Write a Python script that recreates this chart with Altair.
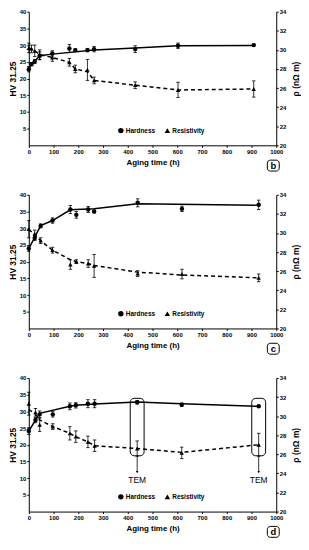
import altair as alt
import pandas as pd

# ---------------- data ----------------
# panel b
b_t = [0, 11, 24, 44, 95, 164, 188, 237, 264, 430, 603, 909]
b_hv = [22.8, 24.3, 25.1, 26.8, 27.5, 29.0, 28.5, 28.5, 28.8, 28.8, 29.8, 30.0]
b_hv_err = [0.8, 0.5, 0.6, 1.2, 0.8, 1.2, 0.4, 0.5, 0.8, 1.0, 0.8, 0.3]
b_hv_fit_t = [0, 11, 24, 44, 95, 264, 430, 603, 909]
b_hv_fit = [22.8, 24.3, 25.2, 26.8, 27.3, 28.5, 29.1, 29.8, 29.9]
b_rho = [30.2, 30.1, 29.9, 29.5, 29.2, 28.7, 28.0, 27.9, 26.8, 26.3, 25.8, 25.9]
b_rho_err = [0.5, 0.4, 0.6, 0.5, 0.4, 0.4, 0.4, 1.1, 0.35, 0.35, 0.8, 0.85]
b_rho_fit = [30.2, 30.1, 29.9, 29.5, 29.2, 28.7, 28.0, 27.7, 26.8, 26.3, 25.8, 25.9]

# panel c
c_t = [0, 24, 48, 96, 168, 192, 240, 264, 440, 619, 929]
c_hv = [23.9, 27.1, 30.7, 32.3, 35.6, 34.0, 35.6, 35.0, 37.6, 35.8, 37.0]
c_hv_err = [0.8, 0.8, 0.6, 0.8, 1.2, 1.0, 0.9, 0.4, 1.2, 0.8, 1.4]
c_hv_fit_t = [0, 24, 48, 96, 168, 264, 440, 929]
c_hv_fit = [23.9, 27.3, 30.8, 32.3, 35.5, 35.8, 37.3, 36.9]
c_rho = [30.4, 29.9, 29.2, 28.2, 26.7, 27.0, 26.8, 26.55, 25.75, 25.7, 25.3]
c_rho_err = [0.9, 0.4, 0.3, 0.3, 0.5, 0.2, 0.4, 1.2, 0.3, 0.5, 0.4]
c_rho_fit = [30.4, 29.8, 29.2, 28.2, 27.2, 27.0, 26.8, 26.6, 25.9, 25.6, 25.3]

# panel d
d_t = [0, 27, 44, 97, 166, 190, 239, 266, 438, 618, 929]
d_hv = [24.1, 27.4, 29.1, 29.1, 31.5, 31.8, 32.3, 32.3, 32.7, 32.0, 31.5]
d_hv_err = [1.0, 0.8, 1.0, 0.8, 1.0, 0.8, 1.2, 1.2, 0.5, 0.5, 0.3]
d_hv_fit_t = [0, 27, 44, 166, 190, 266, 438, 618, 929]
d_hv_fit = [24.1, 27.4, 29.4, 31.5, 31.8, 32.2, 32.8, 32.3, 31.5]
d_rho = [31.3, 30.4, 29.1, 28.9, 28.2, 27.85, 27.3, 26.9, 26.6, 26.15, 27.0]
d_rho_err = [1.2, 0.4, 0.7, 0.3, 0.7, 0.6, 0.6, 0.6, 0.8, 0.6, 1.2]
d_rho_fit = [30.7, 30.2, 29.6, 28.9, 28.2, 27.85, 27.3, 26.9, 26.6, 26.2, 27.0]

# TEM annotation (panel d)
tem_t = [438, 929]
tem_label = ["TEM", "TEM"]
tem_box_top = 33.9
tem_box_bottom = 16.7
tem_arrow_end = 11.8
tem_text_hv = 9.3

# legend entries
legend_labels = ["Hardness", "Resistivity"]
legend_t = [372, 560]
legend_hv = 4.4

x_ticks = list(range(0, 1001, 100))
hv_ticks = list(range(5, 41, 5))
rho_ticks = list(range(20, 35, 2))

FONT = "Liberation Sans"
W, H = 250, 135

xscale = alt.Scale(domain=[0, 1000], nice=False, zero=False)
xaxis = alt.Axis(values=x_ticks, title="Aging time (h)", labelFlush=False, format="d")
hv_scale = alt.Scale(domain=[0, 40], nice=False, zero=False)
hv_axis = alt.Axis(values=hv_ticks, title="HV 31.25", orient="left", format="d")
rho_scale = alt.Scale(domain=[20, 34], nice=False, zero=False)
rho_axis = alt.Axis(values=rho_ticks, title="ρ (nΩ m)", orient="right", format="d",
                    titleAngle=270, titleBaseline="top", titlePadding=6)


def X(f):
    return alt.X(f, type="quantitative", scale=xscale, axis=xaxis)


def YH(f):
    return alt.Y(f, type="quantitative", scale=hv_scale, axis=hv_axis)


def YR(f):
    return alt.Y(f, type="quantitative", scale=rho_scale, axis=rho_axis)


def err_layers(df, Yf, shape):
    bars = alt.Chart(df).mark_rule(color="black", strokeWidth=0.8).encode(
        x=X("t"), y=Yf("lo"), y2="hi")
    caps = alt.Chart(df).transform_fold(["lo", "hi"], as_=["k", "v"]).mark_point(
        shape="stroke", size=12, color="black", strokeWidth=0.8, opacity=1).encode(
        x=X("t"), y=Yf("v"))
    pts = alt.Chart(df).mark_point(shape=shape, filled=True, color="black",
                                   size=20, opacity=1).encode(x=X("t"), y=Yf("val"))
    return [bars, caps, pts]


def panel(letter, t, hv, hv_err, hv_fit_t, hv_fit, rho, rho_err, rho_fit, tem=False):
    hd = pd.DataFrame({"t": t, "val": hv,
                       "lo": [v - e for v, e in zip(hv, hv_err)],
                       "hi": [v + e for v, e in zip(hv, hv_err)]})
    rd = pd.DataFrame({"t": t, "val": rho,
                       "lo": [v - e for v, e in zip(rho, rho_err)],
                       "hi": [v + e for v, e in zip(rho, rho_err)]})
    hfit = pd.DataFrame({"t": hv_fit_t, "val": hv_fit})
    rfit = pd.DataFrame({"t": t, "val": rho_fit})

    hline = alt.Chart(hfit).mark_line(color="black", strokeWidth=1.5).encode(
        x=X("t"), y=YH("val"))
    rline = alt.Chart(rfit).mark_line(color="black", strokeWidth=1.5,
                                      strokeDash=[4, 3]).encode(
        x=X("t"), y=YR("val"))

    leg = pd.DataFrame({"t": legend_t, "val": [legend_hv] * 2, "lab": legend_labels})
    leg_c = alt.Chart(leg.iloc[[0]]).mark_point(shape="circle", filled=True, color="black",
                                                size=30, opacity=1).encode(x=X("t"), y=YH("val"))
    leg_tr = alt.Chart(leg.iloc[[1]]).mark_point(shape="triangle-up", filled=True,
                                                 color="black", size=30, opacity=1).encode(
        x=X("t"), y=YH("val"))
    leg_txt = alt.Chart(leg).mark_text(align="left", baseline="middle", dx=5,
                                       font=FONT, fontSize=6.5, fontWeight="bold",
                                       color="black").encode(
        x=X("t"), y=YH("val"), text="lab:N")

    lab = pd.DataFrame({"lab": [letter]})
    box = alt.Chart(lab).mark_rect(cornerRadius=3, fill="white", stroke="black",
                                   strokeWidth=1).encode(
        x=alt.value(241), x2=alt.value(253), y=alt.value(150), y2=alt.value(161))
    box_txt = alt.Chart(lab).mark_text(font=FONT, fontSize=9.5, fontWeight="bold",
                                       baseline="middle", align="center",
                                       color="black").encode(
        x=alt.value(247), y=alt.value(155.5), text="lab:N")

    hard_layers = [hline] + err_layers(hd, YH, "circle") + [leg_c, leg_tr, leg_txt, box, box_txt]

    if tem:
        td = pd.DataFrame({"t": tem_t, "top": [tem_box_top] * 2,
                           "bot": [tem_box_bottom] * 2,
                           "end": [tem_arrow_end] * 2,
                           "txt": [tem_text_hv] * 2, "lab": tem_label})
        tbox = alt.Chart(td).mark_rect(cornerRadius=4, fill="white", fillOpacity=0,
                                       stroke="black", strokeWidth=1,
                                       xOffset=-7, x2Offset=7).encode(
            x=X("t"), x2="t", y=YH("top"), y2="bot")
        tarrow = alt.Chart(td).mark_rule(color="black", strokeWidth=0.8).encode(
            x=X("t"), y=YH("bot"), y2="end")
        thead = alt.Chart(td).mark_point(shape="triangle-down", filled=True,
                                         color="black", size=6, opacity=1).encode(
            x=X("t"), y=YH("end"))
        ttxt = alt.Chart(td).mark_text(font=FONT, fontSize=8.5, baseline="middle",
                                       color="black").encode(
            x=X("t"), y=YH("txt"), text="lab:N")
        hard_layers += [tbox, tarrow, thead, ttxt]

    hard = alt.layer(*hard_layers)
    res = alt.layer(rline, *err_layers(rd, YR, "triangle-up"))
    return alt.layer(hard, res).resolve_scale(y="independent").properties(
        width=W, height=H)


pb = panel("b", b_t, b_hv, b_hv_err, b_hv_fit_t, b_hv_fit, b_rho, b_rho_err, b_rho_fit)
pc = panel("c", c_t, c_hv, c_hv_err, c_hv_fit_t, c_hv_fit, c_rho, c_rho_err, c_rho_fit)
pdd = panel("d", d_t, d_hv, d_hv_err, d_hv_fit_t, d_hv_fit, d_rho, d_rho_err, d_rho_fit,
            tem=True)

chart = alt.vconcat(pb, pc, pdd, spacing=20).properties(
    padding={"left": 0, "top": -2, "right": 0, "bottom": 0}
).configure_view(stroke=None).configure_axis(
    grid=False,
    domainColor="black", domainWidth=1,
    tickColor="black", tickSize=2, tickWidth=1,
    labelFont=FONT, labelFontSize=6, labelFontWeight="bold", labelColor="black",
    labelPadding=1,
    titleFont=FONT, titleFontSize=8.5, titleFontWeight="bold", titleColor="black",
    titlePadding=2,
).configure_axisX(titleFontSize=8, titlePadding=4)

chart.save("out.html", embed_options={"renderer": "svg", "actions": False})
